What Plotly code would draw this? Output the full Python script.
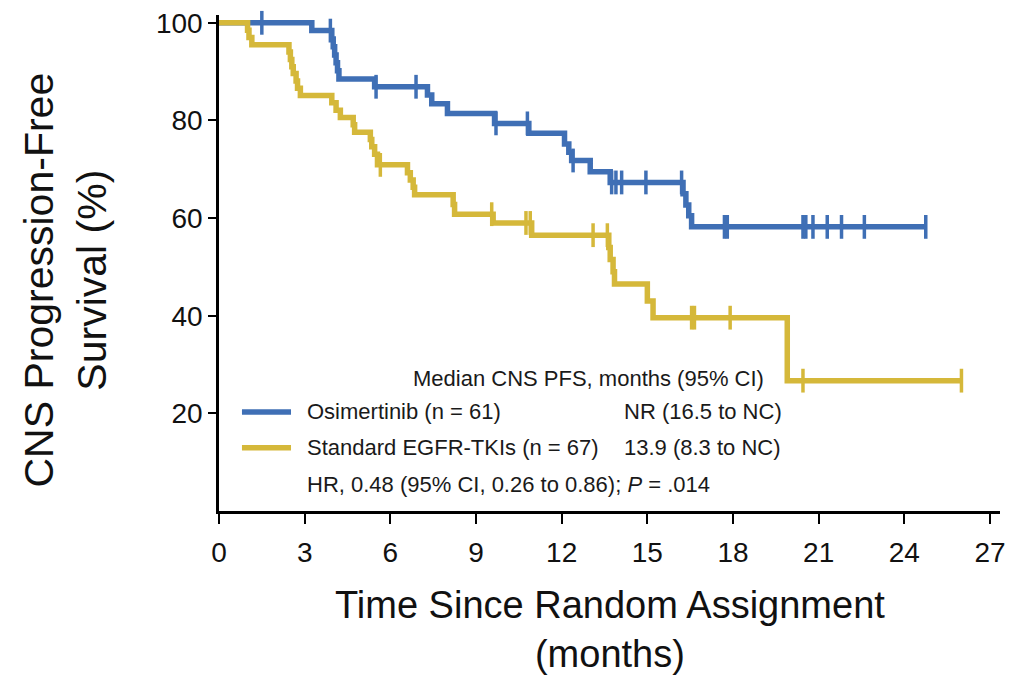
import numpy as np
import plotly.graph_objects as go

# ---------------- data ----------------
osi_name = "Osimertinib (n = 61)"
osi_event_times = [3.25, 3.95, 4.0, 4.05, 4.1, 4.15, 4.2, 5.45, 7.3, 7.45, 8.0, 9.65,
                   10.85, 12.1, 12.25, 12.35, 13.0, 13.7, 16.25, 16.35, 16.45, 16.55]
osi_surv = [98.4, 96.7, 95.1, 93.4, 91.8, 90.2, 88.5, 86.9, 85.2, 83.4, 81.4, 79.4,
            77.4, 75.2, 73.5, 71.8, 69.5, 67.3, 65.0, 62.7, 60.5, 58.2]
osi_censor_times = [1.5, 3.9, 5.5, 6.9, 9.7, 10.8, 12.4, 13.75, 13.9, 14.1, 14.95, 16.2,
                    17.7, 17.8, 20.45, 20.55, 20.8, 21.3, 21.8, 22.6, 24.75]
osi_end = 24.75

std_name = "Standard EGFR-TKIs (n = 67)"
std_event_times = [1.0, 1.05, 1.15, 2.45, 2.5, 2.55, 2.6, 2.7, 2.75, 2.85, 3.95, 4.1, 4.25,
                   4.7, 4.75, 5.3, 5.35, 5.45, 5.55, 6.6, 6.7, 6.8, 6.85, 8.2, 8.25, 9.6,
                   10.95, 13.65, 13.7, 13.8, 13.85, 15.0, 15.2, 19.9]
std_surv = [98.5, 97.0, 95.5, 94.0, 92.5, 91.0, 89.6, 88.1, 86.6, 85.1, 83.6, 82.1, 80.6,
            79.1, 77.6, 76.1, 74.6, 73.1, 70.9, 69.3, 67.8, 66.3, 64.8, 62.8, 60.8, 59.0,
            56.5, 54.0, 51.5, 49.0, 46.5, 43.0, 39.6, 26.7]
std_censor_times = [5.65, 9.55, 10.75, 10.9, 13.1, 13.6, 16.55, 16.65, 17.9, 20.45, 26.0]
std_end = 26.0

x_ticks = [0, 3, 6, 9, 12, 15, 18, 21, 24, 27]
y_ticks = [20, 40, 60, 80, 100]

median_header = "Median CNS PFS, months (95% CI)"
osi_median = "NR (16.5 to NC)"
std_median = "13.9 (8.3 to NC)"
hr_text = "HR, 0.48 (95% CI, 0.26 to 0.86); <i>P</i> = .014"

BLUE = "#3f6fb5"
YELLOW = "#d5b83a"
FONT = "Liberation Sans, Arial, sans-serif"


def step_xy(times, surv, end):
    xs = [0.0] + list(times) + [end]
    ys = [100.0] + list(surv) + [surv[-1]]
    return xs, ys


def censor_levels(times, surv, ctimes):
    t = np.asarray(times)
    s = np.asarray([100.0] + list(surv))
    idx = np.searchsorted(t, np.asarray(ctimes), side="right")
    return s[idx]


fig = go.Figure()
for name, times, surv, ctimes, end, col in [
    (osi_name, osi_event_times, osi_surv, osi_censor_times, osi_end, BLUE),
    (std_name, std_event_times, std_surv, std_censor_times, std_end, YELLOW),
]:
    xs, ys = step_xy(times, surv, end)
    fig.add_trace(go.Scatter(x=xs, y=ys, mode="lines", line=dict(color=col, width=5.5, shape="hv"),
                             name=name, showlegend=False, hoverinfo="skip", cliponaxis=False))
    fig.add_trace(go.Scatter(x=ctimes, y=censor_levels(times, surv, ctimes), mode="markers",
                             marker=dict(symbol="line-ns", size=17, line=dict(color=col, width=3.5)),
                             showlegend=False, hoverinfo="skip", cliponaxis=False))

# legend-like block
fig.add_shape(type="line", xref="paper", yref="paper", x0=0.0294, x1=0.0922, y0=0.1996, y1=0.1996,
              line=dict(color=BLUE, width=5.5))
fig.add_shape(type="line", xref="paper", yref="paper", x0=0.0294, x1=0.0922, y0=0.1277, y1=0.1277,
              line=dict(color=YELLOW, width=5.5))
ann_font = dict(family=FONT, size=22, color="#1a1a1a")
fig.add_annotation(xref="paper", yref="paper", x=0.701, y=0.2675, text=median_header,
                   showarrow=False, xanchor="right", yanchor="middle", font=ann_font)
fig.add_annotation(xref="paper", yref="paper", x=0.110, y=0.1996, text=osi_name,
                   showarrow=False, xanchor="left", yanchor="middle", font=ann_font)
fig.add_annotation(xref="paper", yref="paper", x=0.516, y=0.1996, text=osi_median,
                   showarrow=False, xanchor="left", yanchor="middle", font=ann_font)
fig.add_annotation(xref="paper", yref="paper", x=0.110, y=0.1277, text=std_name,
                   showarrow=False, xanchor="left", yanchor="middle", font=ann_font)
fig.add_annotation(xref="paper", yref="paper", x=0.516, y=0.1277, text=std_median,
                   showarrow=False, xanchor="left", yanchor="middle", font=ann_font)
fig.add_annotation(xref="paper", yref="paper", x=0.110, y=0.0539, text=hr_text,
                   showarrow=False, xanchor="left", yanchor="middle", font=ann_font)

# axis titles
title_font = dict(family=FONT, size=38, color="#111111")
fig.add_annotation(xref="paper", yref="paper", x=0.5, y=-0.2395,
                   text="Time Since Random Assignment<br>(months)", showarrow=False,
                   xanchor="center", yanchor="middle", font=title_font)
fig.add_annotation(xref="paper", yref="paper", x=-0.197, y=0.465,
                   text="CNS Progression-Free<br>Survival (%)", showarrow=False, textangle=-90,
                   xanchor="center", yanchor="middle", font=dict(family=FONT, size=41, color="#111111"))

# the page body adds an 8 px offset; size the figure so it fits the 1028x679 window
fig.update_layout(
    width=1020, height=671,
    margin=dict(l=211, r=28, t=0, b=168),
    paper_bgcolor="white", plot_bgcolor="white",
    font=dict(family=FONT, color="#111111"),
)
fig.update_xaxes(range=[0, 27.35], tickvals=x_ticks, ticks="outside", ticklen=10, tickwidth=2,
                 tickcolor="black", showline=True, linecolor="black", linewidth=2.5,
                 showgrid=False, zeroline=False, tickfont=dict(size=28, family=FONT),
                 ticklabelstandoff=5, ticklabeloverflow="allow")
fig.update_yaxes(range=[0, 101.6], tickvals=y_ticks, ticks="outside", ticklen=8, tickwidth=2,
                 tickcolor="black", showline=True, linecolor="black", linewidth=2.5,
                 showgrid=False, zeroline=False, tickfont=dict(size=28, family=FONT),
                 ticklabeloverflow="allow")

fig.write_html("out.html")
